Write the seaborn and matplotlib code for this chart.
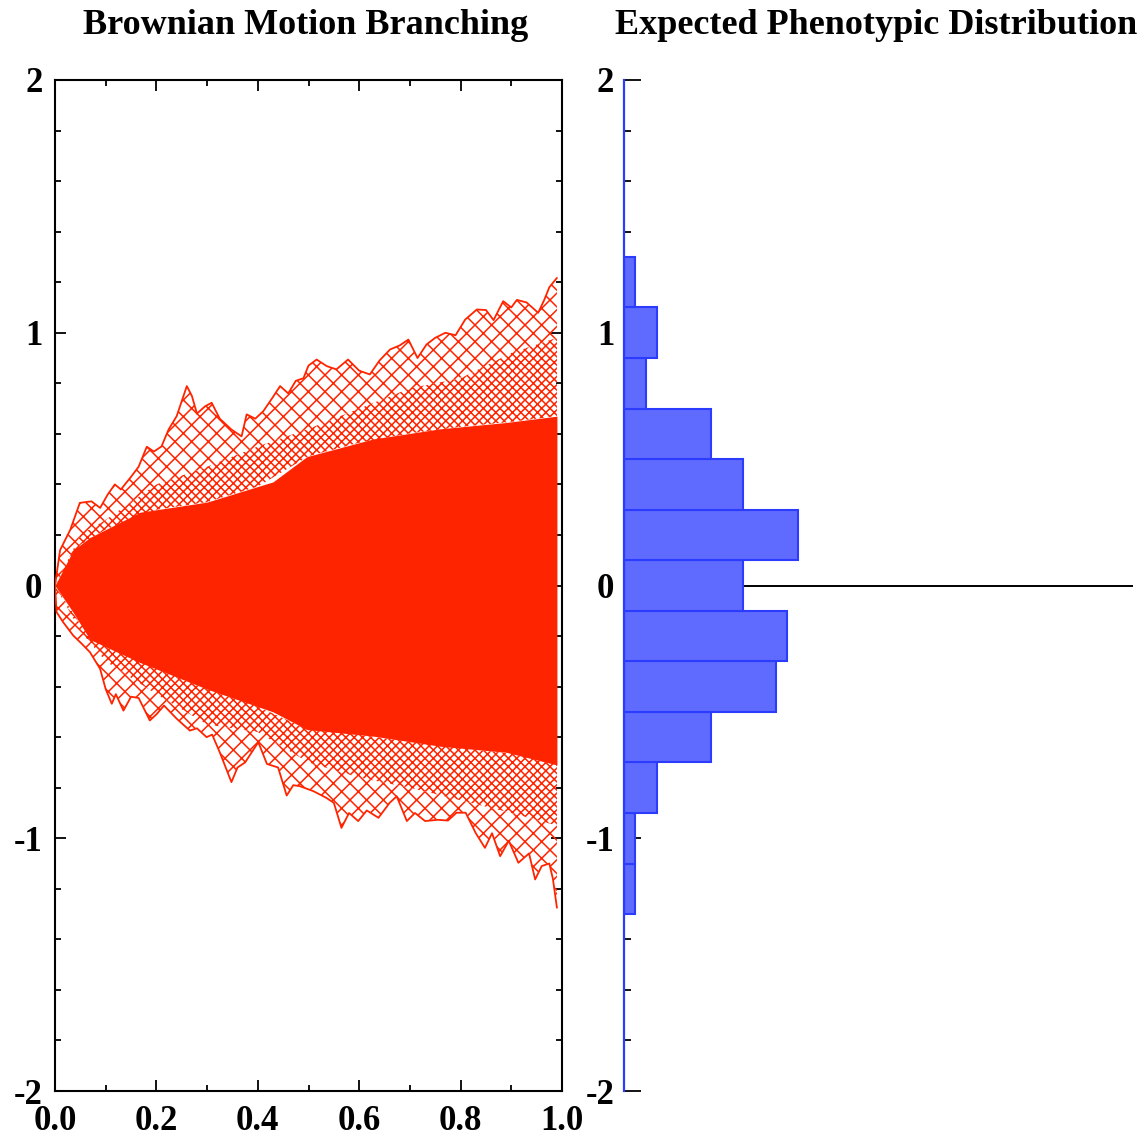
import numpy as np
import matplotlib
matplotlib.use("Agg")
import matplotlib.pyplot as plt
from matplotlib.ticker import MultipleLocator, FixedLocator, FixedFormatter
import seaborn as sns

sns.set_theme(style="white")
plt.rcParams["font.family"] = ["Liberation Serif", "DejaVu Serif"]
plt.rcParams["text.color"] = "black"
plt.rcParams["xtick.color"] = "black"
plt.rcParams["ytick.color"] = "black"
plt.rcParams["hatch.linewidth"] = 1.1

# ---- Brownian paths: outer envelope of the bundle (time, trait value) ----
upper_t = [0, 0.01, 0.03, 0.049, 0.072, 0.089, 0.104, 0.118, 0.13, 0.15, 0.165,
           0.181, 0.195, 0.21, 0.224, 0.24, 0.26, 0.27, 0.28, 0.296, 0.309, 0.325,
           0.348, 0.368, 0.378, 0.395, 0.411, 0.428, 0.444, 0.46, 0.475, 0.49,
           0.5, 0.516, 0.536, 0.555, 0.578, 0.60, 0.621, 0.64, 0.661, 0.68,
           0.697, 0.715, 0.733, 0.75, 0.77, 0.79, 0.809, 0.832, 0.85, 0.865,
           0.884, 0.90, 0.911, 0.93, 0.953, 0.965, 0.975, 0.99]
upper_v = [0, 0.14, 0.22, 0.327, 0.333, 0.307, 0.36, 0.40, 0.38, 0.43, 0.47,
           0.549, 0.53, 0.55, 0.617, 0.67, 0.789, 0.75, 0.68, 0.709, 0.723, 0.66,
           0.617, 0.59, 0.677, 0.66, 0.69, 0.74, 0.789, 0.76, 0.81, 0.82,
           0.87, 0.894, 0.868, 0.855, 0.894, 0.85, 0.835, 0.89, 0.934, 0.95,
           0.973, 0.90, 0.954, 0.98, 1.0, 0.99, 1.052, 1.092, 1.09, 1.05,
           1.125, 1.10, 1.13, 1.12, 1.079, 1.13, 1.18, 1.217]

lower_t = [0, 0.003, 0.016, 0.036, 0.053, 0.069, 0.089, 0.1, 0.112, 0.12, 0.135,
           0.15, 0.165, 0.187, 0.2, 0.215, 0.24, 0.266, 0.28, 0.299, 0.31, 0.325,
           0.348, 0.36, 0.375, 0.401, 0.418, 0.44, 0.457, 0.47, 0.483, 0.51,
           0.535, 0.55, 0.565, 0.58, 0.598, 0.615, 0.638, 0.66, 0.674, 0.694,
           0.71, 0.73, 0.755, 0.775, 0.792, 0.81, 0.83, 0.848, 0.862, 0.878,
           0.895, 0.914, 0.935, 0.947, 0.96, 0.975, 0.982, 0.99]
lower_v = [0, -0.105, -0.145, -0.198, -0.231, -0.264, -0.33, -0.41, -0.468, -0.43, -0.495,
           -0.44, -0.445, -0.534, -0.51, -0.475, -0.527, -0.574, -0.565, -0.60, -0.59, -0.66,
           -0.778, -0.72, -0.70, -0.62, -0.706, -0.72, -0.831, -0.79, -0.794, -0.814,
           -0.84, -0.86, -0.959, -0.90, -0.932, -0.89, -0.919, -0.86, -0.834, -0.932,
           -0.90, -0.932, -0.927, -0.93, -0.899, -0.899, -0.98, -1.038, -0.98, -1.071,
           -1.01, -1.097, -1.06, -1.163, -1.11, -1.10, -1.16, -1.275]

# dense core of the bundle
core_t = [0, 0.036, 0.069, 0.168, 0.30, 0.43, 0.497, 0.628, 0.76, 0.89, 0.99]
core_hi = [0, 0.14, 0.19, 0.29, 0.33, 0.41, 0.51, 0.58, 0.62, 0.645, 0.67]
core_lo = [0, -0.107, -0.214, -0.305, -0.41, -0.50, -0.57, -0.596, -0.636, -0.66, -0.71]

# tightly woven band between the core and the loose outer strands
mid_t = [0, 0.05, 0.1, 0.2, 0.3, 0.4, 0.5, 0.6, 0.7, 0.8, 0.9, 0.99]
mid_hi = [0, 0.2, 0.26, 0.40, 0.47, 0.55, 0.62, 0.70, 0.78, 0.82, 0.92, 0.98]
mid_lo = [0, -0.18, -0.30, -0.43, -0.55, -0.58, -0.70, -0.76, -0.80, -0.85, -0.90, -0.95]

# ---- histogram of end-point trait values ----
bin_edges = [-1.3, -1.1, -0.9, -0.7, -0.5, -0.3, -0.1, 0.1, 0.3, 0.5, 0.7, 0.9, 1.1, 1.3]
bin_centers = [-1.2, -1.0, -0.8, -0.6, -0.4, -0.2, 0.0, 0.2, 0.4, 0.6, 0.8, 1.0, 1.2]
bin_counts = [1, 1, 3, 8, 14, 15, 11, 16, 11, 8, 2, 3, 1]

x_ticks = [0.0, 0.2, 0.4, 0.6, 0.8, 1.0]
x_tick_labels = ["0.0", "0.2", "0.4", "0.6", "0.8", "1.0"]
y_ticks = [-2, -1, 0, 1, 2]
y_tick_labels = ["-2", "-1", "0", "1", "2"]

RED = "#FF2400"
BAR_FILL = "#5F6AFF"
BAR_EDGE = "#2B3CFF"

W, H = 1147, 1141
fig = plt.figure(figsize=(W / 100, H / 100), dpi=100)
fig.patch.set_facecolor("white")

ax1 = fig.add_axes([55 / W, 1 - 1091 / H, 507 / W, 1011 / H])
ax2 = fig.add_axes([624 / W, 1 - 1091 / H, 509 / W, 1011 / H])

tick_font = dict(family="Liberation Serif", weight="bold", size=25, color="black")

# ---- left: branching paths ----
ut = np.asarray(upper_t)
lt = np.asarray(lower_t)
mt = np.asarray(mid_t)
ax1.fill_between(core_t, core_lo, core_hi, color=RED, lw=0, zorder=2)
# woven band
ax1.fill_between(mt, np.interp(mt, core_t, core_hi), mid_hi, facecolor="none",
                 edgecolor=RED, hatch="xxxx", lw=0, zorder=1)
ax1.fill_between(mt, mid_lo, np.interp(mt, core_t, core_lo), facecolor="none",
                 edgecolor=RED, hatch="xxxx", lw=0, zorder=1)
# loose strands out to the envelope
ax1.fill_between(ut, np.interp(ut, mid_t, mid_hi), upper_v, facecolor="none",
                 edgecolor=RED, hatch="xx", lw=0, zorder=1,
                 where=np.asarray(upper_v) >= np.interp(ut, mid_t, mid_hi), interpolate=True)
ax1.fill_between(lt, lower_v, np.interp(lt, mid_t, mid_lo), facecolor="none",
                 edgecolor=RED, hatch="xx", lw=0, zorder=1,
                 where=np.asarray(lower_v) <= np.interp(lt, mid_t, mid_lo), interpolate=True)
sns.lineplot(x=upper_t, y=upper_v, color=RED, lw=1.3, ax=ax1, zorder=3)
sns.lineplot(x=lower_t, y=lower_v, color=RED, lw=1.3, ax=ax1, zorder=3)

ax1.set_xlim(0, 1)
ax1.set_ylim(-2, 2)
ax1.xaxis.set_major_locator(FixedLocator(x_ticks))
ax1.xaxis.set_major_formatter(FixedFormatter(x_tick_labels))
ax1.xaxis.set_minor_locator(MultipleLocator(0.1))
ax1.yaxis.set_major_locator(FixedLocator(y_ticks))
ax1.yaxis.set_major_formatter(FixedFormatter(y_tick_labels))
ax1.yaxis.set_minor_locator(MultipleLocator(0.2))
ax1.tick_params(which="both", direction="in", top=True, right=True,
                bottom=True, left=True, color="black", width=1.3)
ax1.tick_params(which="major", length=8)
ax1.tick_params(which="minor", length=4)
ax1.tick_params(axis="x", which="major", pad=10)
ax1.tick_params(axis="y", which="major", pad=9)
for lab in ax1.get_xticklabels() + ax1.get_yticklabels():
    lab.set(**tick_font)
for sp in ax1.spines.values():
    sp.set_color("black")
    sp.set_linewidth(1.5)
    sp.set_visible(True)
ax1.set_xlabel("")
ax1.set_ylabel("")

# ---- right: histogram ----
ax2.axhline(0, color="black", lw=1.4, zorder=0)
sns.histplot(y=bin_centers, weights=bin_counts, bins=bin_edges, ax=ax2,
             color=BAR_FILL, edgecolor=BAR_EDGE, linewidth=1.5, alpha=1.0,
             zorder=2)
ax2.set_ylim(-2, 2)
ax2.set_xlim(0, 46.9)
ax2.yaxis.set_major_locator(FixedLocator(y_ticks))
ax2.yaxis.set_major_formatter(FixedFormatter(y_tick_labels))
ax2.yaxis.set_minor_locator(MultipleLocator(0.2))
ax2.set_xticks([])
ax2.tick_params(axis="y", which="both", direction="in", left=True, right=False,
                color="black", width=1.3)
ax2.tick_params(axis="y", which="major", length=12, pad=7)
ax2.tick_params(axis="y", which="minor", length=5)
for lab in ax2.get_yticklabels():
    lab.set(**tick_font)
for name, sp in ax2.spines.items():
    sp.set_visible(name == "left")
ax2.spines["left"].set_color("#2B3CFF")
ax2.spines["left"].set_linewidth(1.6)
ax2.set_facecolor("none")
ax2.set_xlabel("")
ax2.set_ylabel("")

title_font = dict(family="Liberation Serif", weight="bold", size=26,
                  ha="center", va="center", color="black")
fig.text(306 / W, 1 - 26 / H, "Brownian Motion Branching", **title_font)
fig.text(876 / W, 1 - 26 / H, "Expected Phenotypic Distribution", **title_font)

fig.savefig("out.png", dpi=100, facecolor="white")
